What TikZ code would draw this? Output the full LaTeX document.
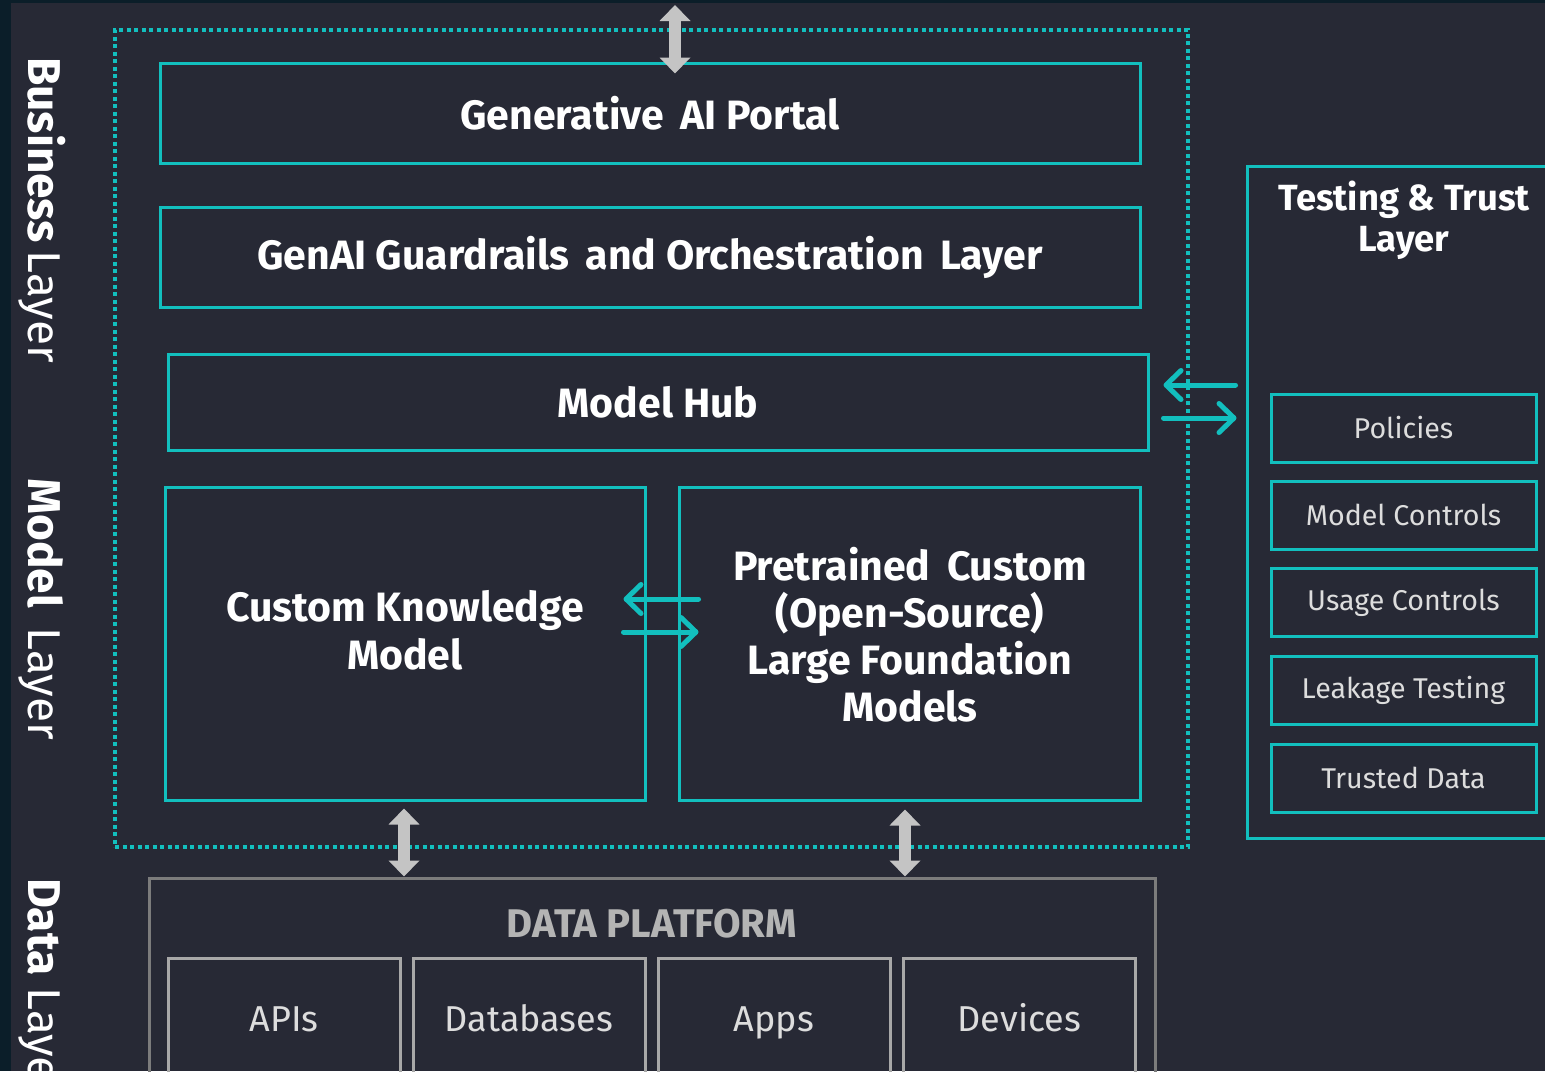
\documentclass[tikz,border=0pt]{standalone}
\usepackage{fontspec}
\setmainfont{Fira Sans}
\usetikzlibrary{arrows.meta,calc}
\definecolor{bgc}{HTML}{272935}
\definecolor{stripc}{HTML}{0B1E29}
\definecolor{tealc}{HTML}{12BFBE}
\definecolor{arrgray}{HTML}{C4C4C4}
\definecolor{dpgray}{HTML}{7C7C7C}
\definecolor{ingray}{HTML}{A8A8A8}
\definecolor{dptext}{HTML}{B4B4B4}
\definecolor{subtext}{HTML}{DDDDDD}
\begin{document}
\begin{tikzpicture}[x=0.5pt,y=-0.5pt,
  tealbox/.style={draw=tealc, line width=1.5pt, text=white, align=center, inner sep=0pt,
     font=\fontsize{20.5}{24}\selectfont\bfseries},
  boldtext/.style={text=white, align=center, inner sep=0pt,
     font=\fontsize{20.5}{23.8}\selectfont\bfseries},
  subbox/.style={draw=tealc, line width=1.5pt, text=subtext, inner sep=0pt,
     minimum width=132.5pt, minimum height=34pt, font=\fontsize{14.3}{17}\selectfont},
  databox/.style={draw=ingray, line width=1.5pt, text=subtext, inner sep=0pt,
     text height=12pt, text depth=4pt,
     minimum width=116pt, minimum height=65pt, font=\fontsize{18}{21}\selectfont},
  sidelabel/.style={rotate=-90, text=white, inner sep=0pt, font=\fontsize{23}{26}\selectfont},
  grayarrow/.style={draw=arrgray, line width=6pt,
     {Triangle[length=8pt,width=15pt]}-{Triangle[length=8pt,width=15pt]}},
  tealarrow/.style={draw=tealc, line width=2.5pt, line cap=round,
     -{Straight Barb[length=7.5pt,width=14.5pt,round]}},
]
\useasboundingbox (0,0) rectangle (1545,1071);
\clip (0,0) rectangle (1545,1071);
\fill[bgc] (0,0) rectangle (1545,1071);
\fill[stripc] (0,0) rectangle (11,1071);
\fill[stripc] (0,0) rectangle (1545,3);

% side labels
\node[sidelabel, anchor=base] (bl) at (28,210) {\textbf{Business}\,Layer};
\node[sidelabel, anchor=base] (ml) at (28,609) {\textbf{Model}\, Layer};
\node[sidelabel, anchor=base west] (dl) at (28,878) {\textbf{Data} Layer};

% outer dotted frame
\node[draw=tealc, line width=2pt, dash pattern=on 2pt off 1.75pt,
      minimum width=536.5pt, minimum height=408.5pt, inner sep=0pt] (frame) at (651.5,438.5) {};

% main boxes
\node[tealbox, minimum width=490pt, minimum height=50pt] (portal) at (650,113) {Generative\, AI Portal};
\node[tealbox, minimum width=490pt, minimum height=50pt] (guard) at (650,257) {GenAI Guardrails\, and Orchestration\, Layer};
\node[tealbox, minimum width=490pt, minimum height=48pt] (hub) at (658,402) {Model Hub};
\node[tealbox, minimum width=240pt, minimum height=156.5pt] (ckm) at (405,643.5) {};
\node[boldtext] (ckmtext) at (405,630) {Custom Knowledge\\Model};
\node[tealbox, minimum width=230.5pt, minimum height=156.5pt] (pre) at (909.5,643.5) {};
\node[boldtext, font=\fontsize{20.5}{23.5}\selectfont\bfseries] (pretext) at (910,635)
   {Pretrained\, Custom\\(Open-Source)\\Large Foundation\\Models};

% testing & trust
\node[draw=tealc, line width=1.5pt, minimum width=159pt, minimum height=336pt, inner sep=0pt] (test) at (1406,502) {};
\node[text=white, align=center, inner sep=0pt, font=\fontsize{18.2}{20.5}\selectfont\bfseries] (ttitle) at (1404,220) {Testing \& Trust\\Layer};
\node[subbox] (pol) at (1403.5,428) {Policies};
\node[subbox] (mc) at (1403.5,515) {Model Controls};
\node[subbox] (uc) at (1403.5,602.5) {Usage Controls};
\node[subbox] (lt) at (1403.5,690.5) {Leakage Testing};
\node[subbox] (td) at (1403.5,778) {Trusted Data};

% data platform
\node[draw=dpgray, line width=1.5pt, minimum width=503pt, minimum height=106pt, inner sep=0pt] (dp) at (652,984) {};
\node[text=dptext, font=\fontsize{20}{24}\selectfont\bfseries] (dptitle) at (652,924) {DATA PLATFORM};
\node[databox] (apis) at (284,1023) {APIs};
\node[databox] (dbs) at (529,1023) {Databases};
\node[databox] (apps) at (774,1023) {Apps};
\node[databox] (devs) at (1019.5,1023) {Devices};

% gray arrows
\coordinate (topend) at (675,5);
\draw[grayarrow, shorten >=-6pt] (topend) -- (topend |- portal.north);
\draw[grayarrow, shorten <=3.5pt] (ckm.south -| 404,0) -- (dp.north -| 404,0);
\draw[grayarrow, shorten <=4pt] (pre.south -| 905,0) -- (dp.north -| 905,0);

% teal arrows
\draw[tealarrow, shorten <=5pt, shorten >=7pt] (test.west |- 0,385) -- (hub.east |- 0,385);
\draw[tealarrow, shorten <=7pt, shorten >=4.5pt] (hub.east |- 0,418) -- (test.west |- 0,418);
\draw[tealarrow, shorten <=-10.5pt, shorten >=-11.5pt] (pre.west |- 0,599) -- (ckm.east |- 0,599);
\draw[tealarrow, shorten <=-11.5pt, shorten >=-10.5pt] (ckm.east |- 0,632) -- (pre.west |- 0,632);
\end{tikzpicture}
\end{document}
